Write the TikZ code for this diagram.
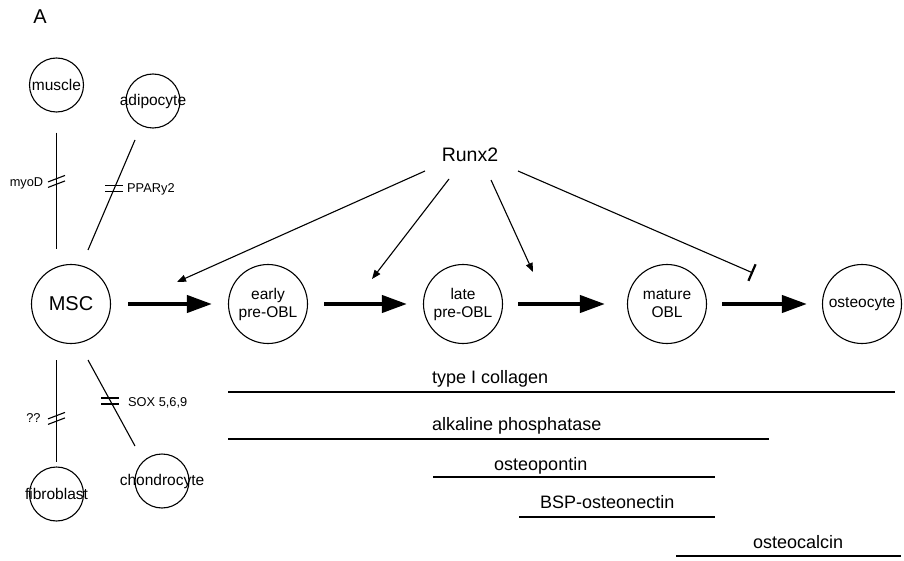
\documentclass[tikz,border=0pt]{standalone}
\usepackage{fontspec}
\setmainfont{Liberation Sans}
\usetikzlibrary{arrows.meta,calc}
\begin{document}
\begin{tikzpicture}[x=1pt,y=-1pt,
  cell/.style={circle,draw,line width=1.1pt,inner sep=0pt,font=\fontsize{15.5}{18}\selectfont,align=center},
  bigcell/.style={cell,minimum size=79pt},
  smallcell/.style={cell,minimum size=54pt},
  prog/.style={line width=4pt,-{Triangle[length=25pt,width=17pt]},shorten <=16pt,shorten >=16pt},
  act/.style={line width=1.1pt,-{Triangle[length=9pt,width=7pt]}},
  inh/.style={line width=1.1pt,-{Bar[width=18pt,line width=2.2pt]}},
  link/.style={line width=1.1pt},
  smalltxt/.style={font=\fontsize{12.8}{15}\selectfont,inner sep=0pt},
  marker/.style={font=\fontsize{18}{21}\selectfont,anchor=base west,inner sep=0pt},
  exprline/.style={line width=1.3pt},
  dslash/.pic={\draw[line width=1.1pt] (-8.5,0.5)--(8.5,-6) (-8.5,6)--(8.5,-0.5);},
  hslash/.pic={\draw[line width=1.1pt] (-9,-3)--(9,-3) (-9,3)--(9,3);}
]
\useasboundingbox (0,0) rectangle (904,561);

\node[font=\fontsize{20}{24}\selectfont] (A) at (40,17) {A};

% cells
\node[smallcell] (muscle) at (56.5,85) {\makebox[0pt]{muscle}};
\node[smallcell] (adipo) at (153,101) {\makebox[0pt]{adipocyte}};
\node[bigcell,font=\fontsize{20}{24}\selectfont] (MSC) at (71,304) {MSC};
\node[smallcell] (fibro) at (56.5,494) {\makebox[0pt]{fibroblast}};
\node[smallcell] (chondro) at (162,481) {\makebox[0pt]{chondrocyte}};
\node[bigcell] (early) at (268,304) {early\\pre-OBL};
\node[bigcell] (late) at (463,304) {late\\pre-OBL};
\node[bigcell] (mature) at (667,304) {mature\\OBL};
\node[bigcell] (osteo) at (862,304) {\makebox[0pt]{osteocyte}};

\node[font=\fontsize{19.5}{23}\selectfont] (runx) at (470,155) {Runx2};

% side lineages
\draw[link] ($(muscle.south)+(0,20)$) -- ($(MSC.north)+(-14.5,-15)$) coordinate[pos=0.42] (tk1);
\draw[link] ($(adipo)+(-18,39)$) -- ($(MSC)+(17,-54)$) coordinate[pos=0.445] (tk2);
\draw[link] ($(MSC)+(-14.5,56)$) -- ($(fibro.north)+(0,-4)$) coordinate[pos=0.57] (tk3);
\draw[link] ($(MSC)+(17,56)$) -- ($(chondro)+(-27,-35)$) coordinate[pos=0.477] (tk4);
\pic at (tk1) {dslash};
\pic at (tk2) {hslash};
\pic at (tk3) {dslash};
\pic at (tk4) {hslash};
\node[smalltxt] (myod) at (26.5,183) {myoD};
\node[smalltxt,anchor=west] (ppar) at (127,189) {PPARy2};
\node[smalltxt] (qq) at (33.5,418) {??};
\node[smalltxt,anchor=west] (sox) at (128,403) {SOX 5,6,9};

% main progression
\draw[prog,shorten <=17pt] (MSC) -- (early);
\draw[prog] (early) -- (late);
\draw[prog,shorten <=15pt,shorten >=22pt] (late) -- (mature);
\draw[prog,shorten <=15pt,shorten >=15pt] (mature) -- (osteo);

% Runx2 regulation
\coordinate (e1) at (177,282);
\coordinate (e2) at (372,279);
\coordinate (e3) at (533,272);
\coordinate (e4) at (753,273);
\draw[act] ($(runx)+(-45,16)$) -- (e1);
\draw[act] ($(runx)+(-21,24)$) -- (e2);
\draw[act] ($(runx)+(21,25)$) -- (e3);
\draw[inh] ($(runx)+(48,16)$) -- (e4);

% expression markers
\coordinate (c1a) at (228,392); \coordinate (c1b) at (895,392);
\coordinate (c2a) at (228,439); \coordinate (c2b) at (769,439);
\coordinate (c3a) at (433,477); \coordinate (c3b) at (715,477);
\coordinate (c4a) at (519,517); \coordinate (c4b) at (715,517);
\coordinate (c5a) at (676,556); \coordinate (c5b) at (901,556);
\draw[exprline] (c1a) -- (c1b);
\draw[exprline] (c2a) -- (c2b);
\draw[exprline] (c3a) -- (c3b);
\draw[exprline] (c4a) -- (c4b);
\draw[exprline] (c5a) -- (c5b);
\node[marker] (m1) at (432,383) {type I collagen};
\node[marker] (m2) at (432,430) {alkaline phosphatase};
\node[marker] (m3) at (494,470) {osteopontin};
\node[marker] (m4) at (540,508) {BSP-osteonectin};
\node[marker] (m5) at (753,548) {osteocalcin};
\end{tikzpicture}
\end{document}
